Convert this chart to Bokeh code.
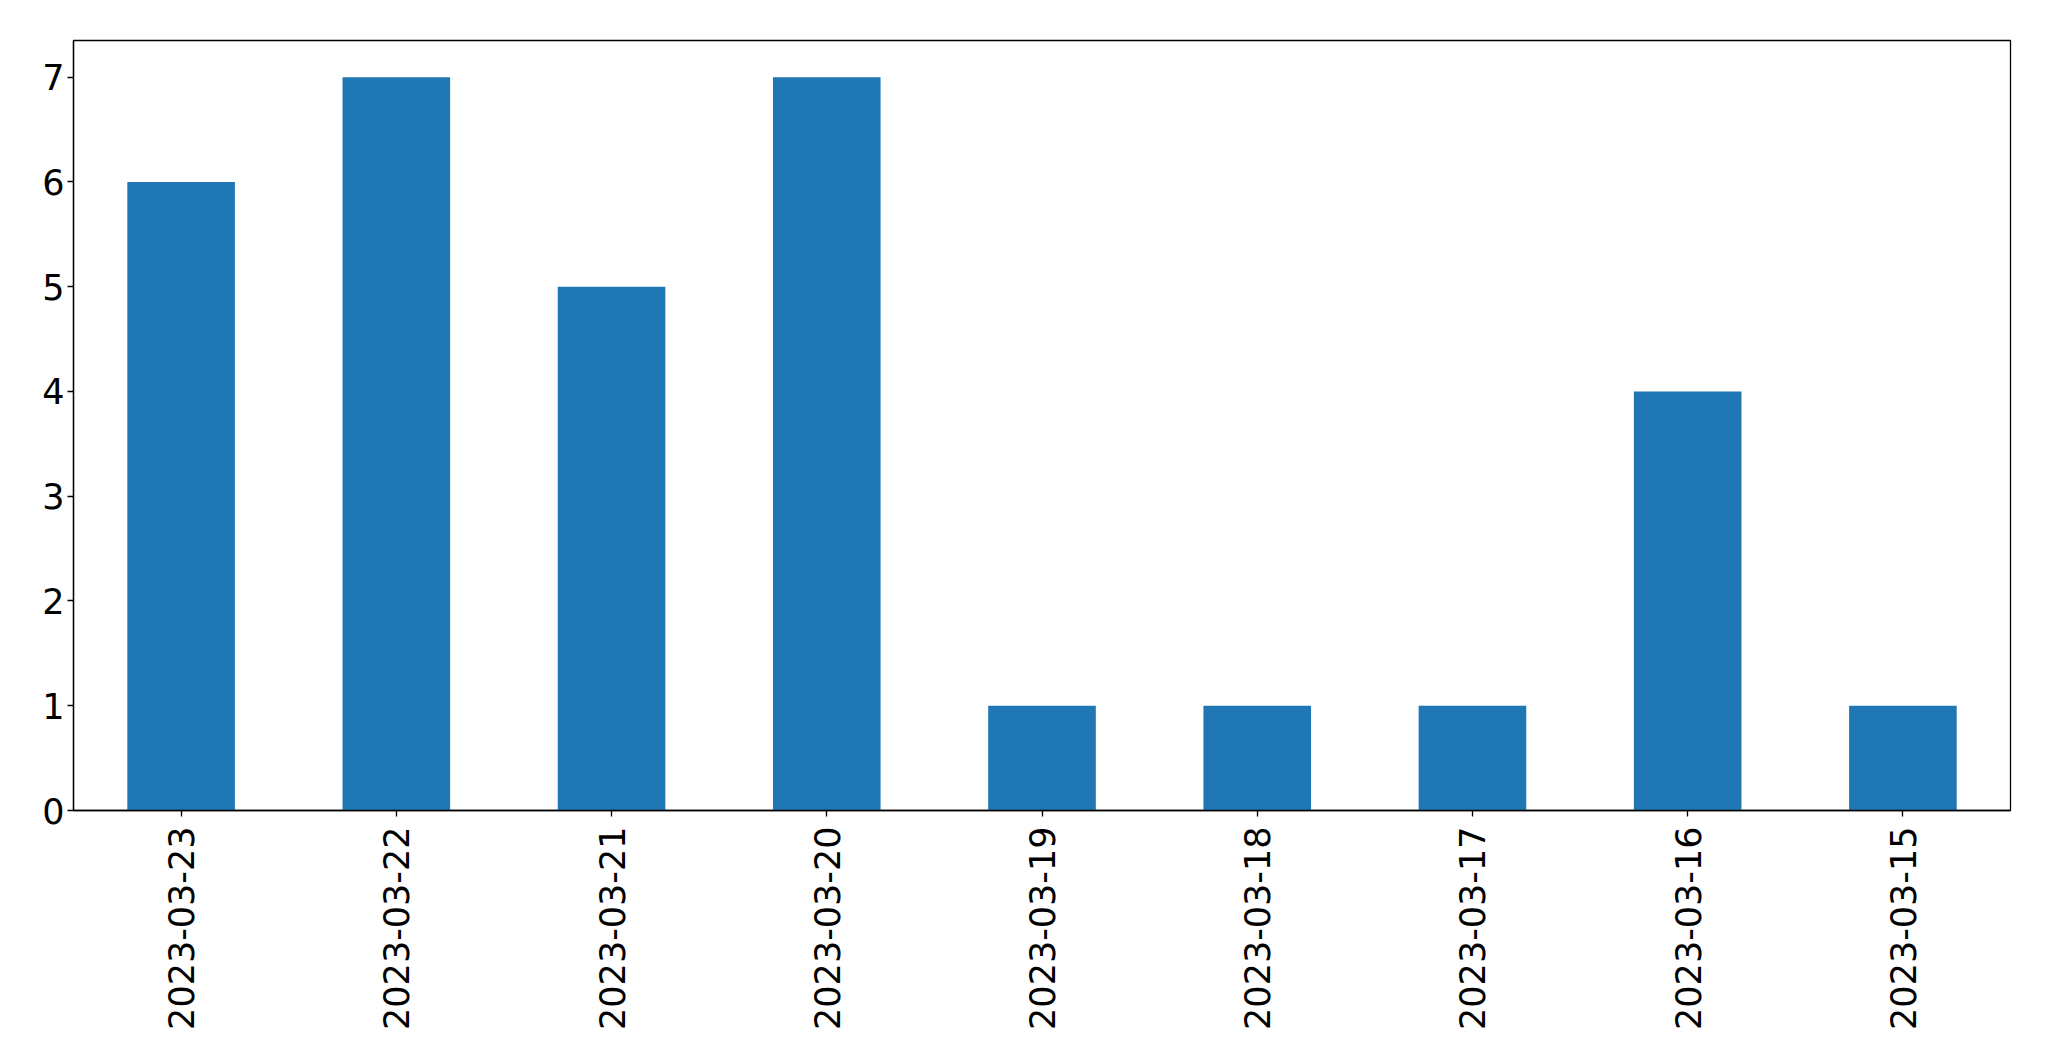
import math
from bokeh.plotting import figure
from bokeh.models import Range1d, FixedTicker
from bokeh.embed import file_html
from bokeh.resources import INLINE

dates = ["2023-03-23", "2023-03-22", "2023-03-21", "2023-03-20", "2023-03-19",
         "2023-03-18", "2023-03-17", "2023-03-16", "2023-03-15"]
counts = [6, 7, 5, 7, 1, 1, 1, 4, 1]
y_ticks = [0, 1, 2, 3, 4, 5, 6, 7]

p = figure(x_range=dates, y_range=Range1d(0, 7.35), width=2042, height=1050,
           output_backend="svg", toolbar_location=None,
           min_border_left=73, min_border_top=40, min_border_right=32, min_border_bottom=240)

p.vbar(x=dates, top=counts, width=0.5, color="#1f77b4", line_color=None)

p.xgrid.visible = False
p.ygrid.visible = False
p.outline_line_color = "black"
p.outline_line_width = 1.3
p.outline_line_alpha = 1.0

for ax in (p.xaxis, p.yaxis):
    ax.axis_line_color = "black"
    ax.axis_line_width = 1.3
    ax.major_tick_line_color = "black"
    ax.major_tick_line_width = 1.3
    ax.major_tick_out = 6
    ax.major_tick_in = 0
    ax.minor_tick_line_color = None
    ax.major_label_text_font = "DejaVu Sans"
    ax.major_label_text_font_size = "35px"
    ax.major_label_text_color = "black"

p.yaxis.ticker = FixedTicker(ticks=y_ticks)
p.yaxis.major_label_standoff = 3
p.xaxis.major_label_orientation = math.pi / 2
p.xaxis.major_label_standoff = 10

open("out.html", "w").write(file_html(p, INLINE))
